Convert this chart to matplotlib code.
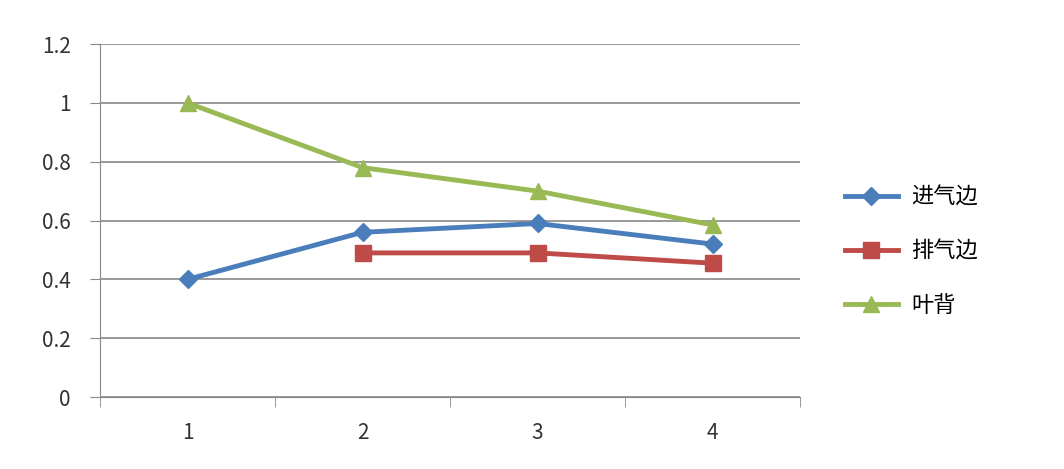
import matplotlib
matplotlib.use("Agg")
import matplotlib.pyplot as plt
import numpy as np

plt.rcParams['font.family'] = ['Noto Sans CJK SC', 'DejaVu Sans']

categories = ["1", "2", "3", "4"]
intake = [0.40, 0.56, 0.59, 0.52]
exhaust = [np.nan, 0.49, 0.49, 0.455]
back = [1.0, 0.78, 0.70, 0.585]
yticks = [0, 0.2, 0.4, 0.6, 0.8, 1, 1.2]
ylabels = ["0", "0.2", "0.4", "0.6", "0.8", "1", "1.2"]

fig = plt.figure(figsize=(10.64, 4.69), dpi=100)
ax = fig.add_axes([0.094, 0.1535, 0.658, 0.7525])
x = np.arange(len(categories))
ax.plot(x, intake, color="#4A7EBB", lw=3.5, marker="D", ms=9, label="进气边")
ax.plot(x, exhaust, color="#BE4B48", lw=3.5, marker="s", ms=11, label="排气边")
ax.plot(x, back, color="#98B954", lw=3.5, marker="^", ms=11, label="叶背")
ax.set_xlim(-0.5, 3.5)
ax.set_ylim(0, 1.2)
ax.set_yticks(yticks)
ax.set_yticklabels(ylabels, fontsize=15, color="#333333")
ax.set_xticks(x)
ax.set_xticklabels(categories, fontsize=15, color="#333333")
ax.set_xticks(np.arange(-0.5, 4, 1), minor=True)
ax.tick_params(axis='x', which='major', length=0, pad=18)
ax.tick_params(axis='x', which='minor', length=7, color="#888888")
ax.tick_params(axis='y', length=7, color="#888888", direction='out', pad=14)
ax.grid(axis='y', color="#888888", lw=1.2)
for s in ['top', 'right']:
    ax.spines[s].set_visible(False)
for s in ['left', 'bottom']:
    ax.spines[s].set_color("#888888")
ax.set_axisbelow(True)
fig.legend(loc='center left', bbox_to_anchor=(0.775, 0.465), frameon=False,
           fontsize=16, labelspacing=1.4, handlelength=2.4, handletextpad=0.6)
fig.savefig("out.png")
